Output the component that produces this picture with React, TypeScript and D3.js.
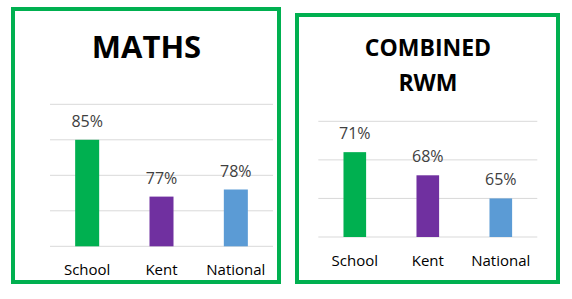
import React from "react";
import * as d3 from "d3";

const categories = ["School", "Kent", "National"];
const mathsValues = [85, 77, 78];
const rwmValues = [71, 68, 65];
const mathsTicks = [70, 75, 80, 85, 90];
const rwmTicks = [60, 65, 70, 75];
const barColors = ["#00B050", "#7030A0", "#5B9BD5"];
const mathsTitle = ["MATHS"];
const rwmTitle = ["COMBINED", "RWM"];

const FONT = "'Open Sans', 'Noto Sans', sans-serif";

type PanelProps = {
  box: [number, number, number, number];
  title: string[];
  titleX: number;
  titleY: number;
  titleSize: number;
  titleGap: number;
  values: number[];
  ticks: number[];
  xRange: [number, number];
  yRange: [number, number];
  barFrac: number;
  catY: number;
};

function Panel(p: PanelProps) {
  const x = d3.scaleBand<string>().domain(categories).range(p.xRange).padding(0);
  const y = d3
    .scaleLinear()
    .domain([p.ticks[0], p.ticks[p.ticks.length - 1]])
    .range(p.yRange);
  const bw = x.bandwidth() * p.barFrac;
  const [bx, by, bwid, bh] = p.box;
  return (
    <g>
      <rect x={bx} y={by} width={bwid} height={bh} fill="white" stroke="#00B050" strokeWidth={4} />
      {p.title.map((t, i) => (
        <text
          key={t}
          x={p.titleX}
          y={p.titleY + i * p.titleGap}
          textAnchor="middle"
          fontFamily={FONT}
          fontWeight="bold"
          fontSize={p.titleSize}
          fill="#000"
        >
          {t}
        </text>
      ))}
      {p.ticks.map((t) => (
        <line
          key={t}
          x1={p.xRange[0]}
          x2={p.xRange[1]}
          y1={y(t)}
          y2={y(t)}
          stroke="#D9D9D9"
          strokeWidth={1}
        />
      ))}
      {categories.map((c, i) => {
        const cx = (x(c) as number) + x.bandwidth() / 2;
        return (
          <g key={c}>
            <rect
              x={cx - bw / 2}
              y={y(p.values[i])}
              width={bw}
              height={y(p.ticks[0]) - y(p.values[i])}
              fill={barColors[i]}
            />
            <text
              x={cx}
              y={y(p.values[i]) - 13}
              textAnchor="middle"
              fontFamily={FONT}
              fontSize={16}
              fill="#404040"
            >
              {p.values[i] + "%"}
            </text>
            <text
              x={cx}
              y={p.catY}
              textAnchor="middle"
              fontFamily={FONT}
              fontSize={15}
              fill="#000"
            >
              {c}
            </text>
          </g>
        );
      })}
    </g>
  );
}

export default function App() {
  return (
    <svg
      width={572}
      height={299}
      style={{ position: "absolute", left: 0, top: 0, background: "white" }}
    >
      <rect x={0} y={0} width={572} height={299} fill="white" />
      <Panel
        box={[13, 9, 266, 273]}
        title={mathsTitle}
        titleX={146.5}
        titleY={57.5}
        titleSize={31}
        titleGap={0}
        values={mathsValues}
        ticks={mathsTicks}
        xRange={[50, 273]}
        yRange={[246.3, 104.3]}
        barFrac={0.323}
        catY={274.5}
      />
      <Panel
        box={[297, 15, 261, 267]}
        title={rwmTitle}
        titleX={428}
        titleY={56}
        titleSize={23}
        titleGap={34.7}
        values={rwmValues}
        ticks={rwmTicks}
        xRange={[318.3, 537.3]}
        yRange={[237, 121.3]}
        barFrac={0.31}
        catY={265.5}
      />
    </svg>
  );
}
